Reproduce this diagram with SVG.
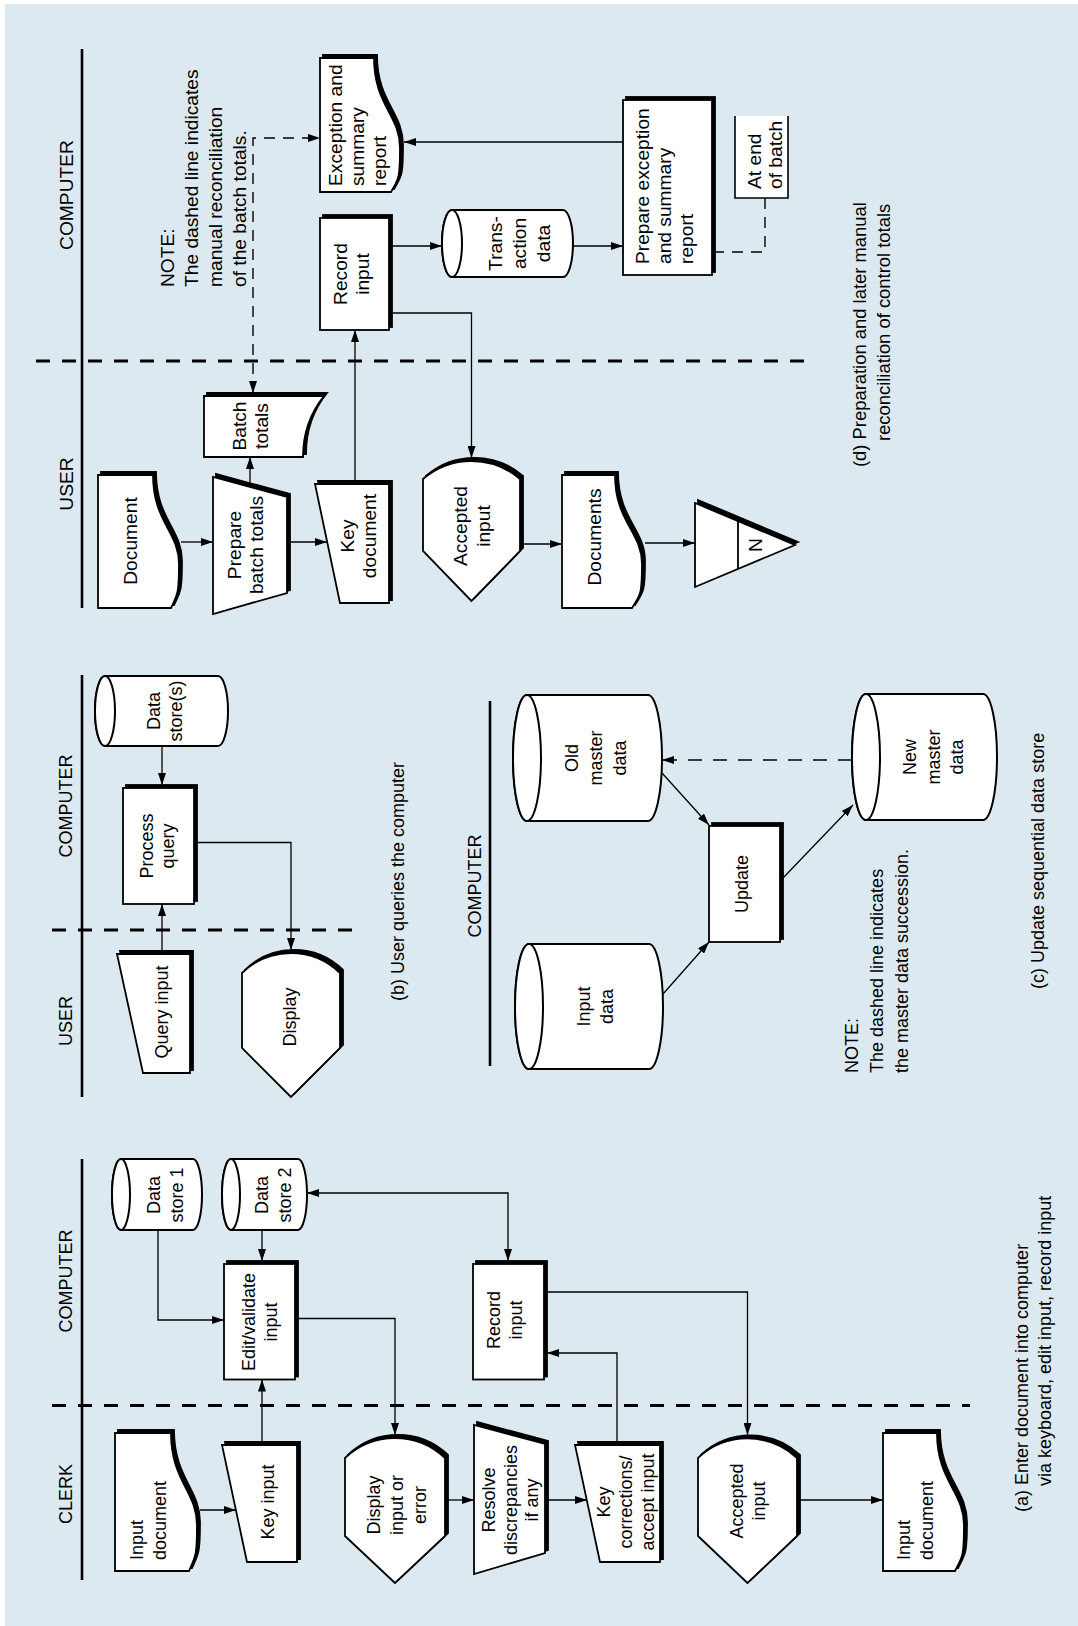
<svg xmlns="http://www.w3.org/2000/svg" width="1078" height="1626" viewBox="0 0 1078 1626">
<style>
text{font-family:"Liberation Sans",Arial,Helvetica,sans-serif;fill:#000}
.f19{font-size:19.2px}
.f18{font-size:18px}
.fc{font-size:18.4px}
.m{text-anchor:middle}
.sh{fill:#000;stroke:#000;stroke-width:1.8}
.nd{fill:#fff;stroke:#000;stroke-width:1.8;stroke-linejoin:miter}
.cy{fill:#fff;stroke:#000;stroke-width:2}
.ln{fill:none;stroke:#000;stroke-width:1.3}
.dl{fill:none;stroke:#000;stroke-width:1.4;stroke-dasharray:11 8}
.dl2{fill:none;stroke:#000;stroke-width:1.4;stroke-dasharray:14 11}
.lane{stroke:#000;stroke-width:2.6}
.div{stroke:#000;stroke-width:3;stroke-dasharray:14 12}
</style>
<defs>
<marker id="ah" viewBox="0 0 12 8" refX="12" refY="4" markerWidth="12" markerHeight="8" markerUnits="userSpaceOnUse" orient="auto-start-reverse"><path d="M0,0 L12,4 L0,8 Z" fill="#000"/></marker>
</defs>
<rect x="5" y="4" width="1073" height="1622" fill="#dce9f1"/>
<g transform="translate(0 1626) rotate(-90)">
<g id="lanes">
<line class="lane" x1="1018" y1="82" x2="1577" y2="82"/>
<line class="div" x1="1265" y1="36" x2="1265" y2="816"/>
<text class="f19 m" x="1431" y="73">COMPUTER</text>
<text class="f19 m" x="1142" y="73">USER</text>
<line class="lane" x1="529" y1="82" x2="951" y2="82"/>
<line class="div" x1="696" y1="52" x2="696" y2="357"/>
<text class="f18 m" x="820" y="72">COMPUTER</text>
<text class="f18 m" x="605" y="72">USER</text>
<line class="lane" x1="560" y1="490" x2="925" y2="490"/>
<text class="f18 m" x="740" y="481">COMPUTER</text>
<line class="lane" x1="46" y1="82" x2="467" y2="82"/>
<line class="div" x1="220.5" y1="52" x2="220.5" y2="970"/>
<text class="f18 m" x="345" y="72">COMPUTER</text>
<text class="f18 m" x="132" y="72">CLERK</text>
</g>

<!-- (d) -->
<g id="d-exception-report">
<path class="sh" transform="translate(3 3)" d="M1434,320 H1568 V374 C1521,374 1511,400 1478,400 S1447,398 1434,391 Z"/>
<path class="nd" d="M1434,320 H1568 V374 C1521,374 1511,400 1478,400 S1447,398 1434,391 Z"/>
<text class="f19"><tspan x="1440" y="342">Exception and</tspan><tspan x="1440" y="364">summary</tspan><tspan x="1440" y="386">report</tspan></text>
</g>
<g id="d-record-input">
<rect class="sh" x="1299" y="323" width="112" height="69"/>
<rect class="nd" x="1296" y="320" width="112" height="69"/>
<text class="f19 m"><tspan x="1352" y="347">Record</tspan><tspan x="1352" y="369">input</tspan></text>
</g>
<g id="d-transaction-data">
<path class="cy" d="M1349,452 V563 A33.5,10 0 0 0 1416,563 V452 A33.5,10 0 0 0 1349,452 Z"/>
<ellipse class="cy" cx="1382.5" cy="452" rx="33.5" ry="10"/>
<text class="f19 m"><tspan x="1382.5" y="502">Trans-</tspan><tspan x="1382.5" y="526">action</tspan><tspan x="1382.5" y="550">data</tspan></text>
</g>
<g id="d-prepare-exception">
<rect class="sh" x="1354" y="626" width="175" height="89"/>
<rect class="nd" x="1351" y="623" width="175" height="89"/>
<text class="f19"><tspan x="1362" y="649">Prepare exception</tspan><tspan x="1362" y="671">and summary</tspan><tspan x="1362" y="693">report</tspan></text>
</g>
<g id="d-annotation">
<rect x="1428" y="735" width="82" height="53" fill="#fff"/>
<path d="M1510,735 H1428 V788 H1510" fill="none" stroke="#000" stroke-width="1.6"/>
<text class="f19"><tspan x="1437" y="760.5">At end</tspan><tspan x="1437" y="782">of batch</tspan></text>
</g>
<g id="d-batch-totals">
<path class="sh" transform="translate(3 3)" d="M1169,204 H1230 V324 C1214,311 1195,303 1169,303 Z"/>
<path class="nd" d="M1169,204 H1230 V324 C1214,311 1195,303 1169,303 Z"/>
<text class="f19 m"><tspan x="1200" y="246">Batch</tspan><tspan x="1200" y="268">totals</tspan></text>
</g>
<g id="d-document">
<path class="sh" transform="translate(3 3)" d="M1018,98 H1151 V153 C1104,153 1094,179 1062,179 S1031,177 1018,171 Z"/>
<path class="nd" d="M1018,98 H1151 V153 C1104,153 1094,179 1062,179 S1031,177 1018,171 Z"/>
<text class="f19 m" x="1085" y="137">Document</text>
</g>
<g id="d-prepare-batch-totals">
<polygon class="sh" transform="translate(3 3)" points="1012,213 1149,213 1129,287 1033,287"/>
<polygon class="nd" points="1012,213 1149,213 1129,287 1033,287"/>
<text class="f19 m"><tspan x="1081" y="241">Prepare</tspan><tspan x="1081" y="263">batch totals</tspan></text>
</g>
<g id="d-key-document">
<polygon class="sh" transform="translate(3 3)" points="1023,340 1142,315 1142,389 1023,389"/>
<polygon class="nd" points="1023,340 1142,315 1142,389 1023,389"/>
<text class="f19 m"><tspan x="1090" y="354">Key</tspan><tspan x="1090" y="376">document</tspan></text>
</g>
<g id="d-accepted-input">
<path class="sh" transform="translate(3 3)" d="M1025,471.5 L1075,423 H1147 A74.3,74.3 0 0 1 1147,520 H1075 Z"/>
<path class="nd" d="M1025,471.5 L1075,423 H1147 A74.3,74.3 0 0 1 1147,520 H1075 Z"/>
<text class="f19 m"><tspan x="1100" y="467">Accepted</tspan><tspan x="1100" y="490">input</tspan></text>
</g>
<g id="d-documents">
<path class="sh" transform="translate(3 3)" d="M1018,562 H1151 V615 C1104,615 1094,642 1062,642 S1031,640 1018,632 Z"/>
<path class="nd" d="M1018,562 H1151 V615 C1104,615 1094,642 1062,642 S1031,640 1018,632 Z"/>
<text class="f19 m" x="1089" y="601">Documents</text>
</g>
<g id="d-offline-file">
<polygon class="sh" transform="translate(3 3)" points="1039,695 1123,695 1081,795"/>
<polygon class="nd" points="1039,695 1123,695 1081,795"/>
<line x1="1057" y1="738" x2="1105" y2="738" stroke="#000" stroke-width="1.8"/>
<text class="f19 m" x="1081" y="762">N</text>
</g>

<!-- (b) -->
<g id="b-data-stores">
<path class="cy" d="M880,105 V218 A35,10 0 0 0 950,218 V105 A35,10 0 0 0 880,105 Z"/>
<ellipse class="cy" cx="915" cy="105" rx="35" ry="10"/>
<text class="f18 m"><tspan x="915" y="160">Data</tspan><tspan x="915" y="182">store(s)</tspan></text>
</g>
<g id="b-process-query">
<rect class="sh" x="725" y="126" width="116" height="71"/>
<rect class="nd" x="722" y="123" width="116" height="71"/>
<text class="f18 m"><tspan x="780" y="153">Process</tspan><tspan x="780" y="174">query</tspan></text>
</g>
<g id="b-query-input">
<polygon class="sh" transform="translate(3 3)" points="553,143 672,117 672,190 553,190"/>
<polygon class="nd" points="553,143 672,117 672,190 553,190"/>
<text class="f18 m" x="614" y="168">Query input</text>
</g>
<g id="b-display">
<path class="sh" transform="translate(3 3)" d="M529,291 L578,242 H653 A70,70 0 0 1 653,340 H578 Z"/>
<path class="nd" d="M529,291 L578,242 H653 A70,70 0 0 1 653,340 H578 Z"/>
<text class="f18 m" x="609" y="296">Display</text>
</g>

<!-- (c) -->
<g id="c-old-master">
<path class="cy" d="M805,527 V648 A63,14 0 0 0 931,648 V527 A63,14 0 0 0 805,527 Z"/>
<ellipse class="cy" cx="868" cy="527" rx="63" ry="14"/>
<text class="f18 m"><tspan x="868" y="578">Old</tspan><tspan x="868" y="602">master</tspan><tspan x="868" y="626">data</tspan></text>
</g>
<g id="c-input-data">
<path class="cy" d="M557,529 V649 A62.5,14 0 0 0 682,649 V529 A62.5,14 0 0 0 557,529 Z"/>
<ellipse class="cy" cx="619.5" cy="529" rx="62.5" ry="14"/>
<text class="f18 m"><tspan x="619.5" y="590">Input</tspan><tspan x="619.5" y="613">data</tspan></text>
</g>
<g id="c-update">
<rect class="sh" x="687" y="712" width="116" height="71"/>
<rect class="nd" x="684" y="709" width="116" height="71"/>
<text class="f18 m" x="742" y="748">Update</text>
</g>
<g id="c-new-master">
<path class="cy" d="M806,866 V983 A63,14 0 0 0 932,983 V866 A63,14 0 0 0 806,866 Z"/>
<ellipse class="cy" cx="869" cy="866" rx="63" ry="14"/>
<text class="f18 m"><tspan x="869" y="916">New</tspan><tspan x="869" y="940">master</tspan><tspan x="869" y="963">data</tspan></text>
</g>

<!-- (a) -->
<g id="a-data-store-1">
<path class="cy" d="M396,121 V193 A35.5,9 0 0 0 467,193 V121 A35.5,9 0 0 0 396,121 Z"/>
<ellipse class="cy" cx="431.5" cy="121" rx="35.5" ry="9"/>
<text class="f18 m"><tspan x="431" y="160">Data</tspan><tspan x="431" y="183">store 1</tspan></text>
</g>
<g id="a-data-store-2">
<path class="cy" d="M396,231 V298 A35.5,9 0 0 0 467,298 V231 A35.5,9 0 0 0 396,231 Z"/>
<ellipse class="cy" cx="431.5" cy="231" rx="35.5" ry="9"/>
<text class="f18 m"><tspan x="431" y="268">Data</tspan><tspan x="431" y="291">store 2</tspan></text>
</g>
<g id="a-edit-validate">
<rect class="sh" x="249.5" y="227" width="115.5" height="71"/>
<rect class="nd" x="246.5" y="224" width="115.5" height="71"/>
<text class="f18 m"><tspan x="304" y="255">Edit/validate</tspan><tspan x="304" y="277">input</tspan></text>
</g>
<g id="a-record-input">
<rect class="sh" x="249.5" y="476" width="115.5" height="71"/>
<rect class="nd" x="246.5" y="473" width="115.5" height="71"/>
<text class="f18 m"><tspan x="306" y="500">Record</tspan><tspan x="306" y="522">input</tspan></text>
</g>
<g id="a-input-document">
<path class="sh" transform="translate(3 3)" d="M55,115 H193 V171 C145,171 134,197 101,197 S69,195 55,189 Z"/>
<path class="nd" d="M55,115 H193 V171 C145,171 134,197 101,197 S69,195 55,189 Z"/>
<text class="f18"><tspan x="66" y="143">Input</tspan><tspan x="66" y="166">document</tspan></text>
</g>
<g id="a-key-input">
<polygon class="sh" transform="translate(3 3)" points="64,247 181,222 181,297 64,297"/>
<polygon class="nd" points="64,247 181,222 181,297 64,297"/>
<text class="f18 m" x="124" y="274">Key input</text>
</g>
<g id="a-display">
<path class="sh" transform="translate(3 3)" d="M43,395 L90,345 H168 A72.5,72.5 0 0 1 168,445 H90 Z"/>
<path class="nd" d="M43,395 L90,345 H168 A72.5,72.5 0 0 1 168,445 H90 Z"/>
<text class="f18 m"><tspan x="121" y="380">Display</tspan><tspan x="121" y="403">input or</tspan><tspan x="121" y="426">error</tspan></text>
</g>
<g id="a-resolve">
<polygon class="sh" transform="translate(3 3)" points="52,474 201,474 182,545 73,545"/>
<polygon class="nd" points="52,474 201,474 182,545 73,545"/>
<text class="f18 m"><tspan x="126" y="495">Resolve</tspan><tspan x="126" y="516.5">discrepancies</tspan><tspan x="126" y="537.5">if any</tspan></text>
</g>
<g id="a-key-corrections">
<polygon class="sh" transform="translate(3 3)" points="64,600 181,575 181,660 64,660"/>
<polygon class="nd" points="64,600 181,575 181,660 64,660"/>
<text class="f18 m"><tspan x="124" y="610">Key</tspan><tspan x="124" y="632">corrections/</tspan><tspan x="124" y="654">accept input</tspan></text>
</g>
<g id="a-accepted-input">
<path class="sh" transform="translate(3 3)" d="M43,747.5 L90,698 H168 A72.5,72.5 0 0 1 168,797 H90 Z"/>
<path class="nd" d="M43,747.5 L90,698 H168 A72.5,72.5 0 0 1 168,797 H90 Z"/>
<text class="f18 m"><tspan x="125" y="743">Accepted</tspan><tspan x="125" y="765">input</tspan></text>
</g>
<g id="a-input-document-2">
<path class="sh" transform="translate(3 3)" d="M55,883 H193 V937 C145,937 134,964 101,964 S69,962 55,955 Z"/>
<path class="nd" d="M55,883 H193 V937 C145,937 134,964 101,964 S69,962 55,955 Z"/>
<text class="f18"><tspan x="66" y="910">Input</tspan><tspan x="66" y="933">document</tspan></text>
</g>

<g id="connectors">
<path class="ln" d="M1084,181 V213" marker-end="url(#ah)"/>
<path class="ln" d="M1084,290 V327" marker-end="url(#ah)"/>
<path class="ln" d="M1142,250 H1169" marker-end="url(#ah)"/>
<path class="ln" d="M1145,355 H1296" marker-end="url(#ah)"/>
<path class="ln" d="M1380,392 V442" marker-end="url(#ah)"/>
<path class="ln" d="M1380,573 V623" marker-end="url(#ah)"/>
<path class="ln" d="M1484,623 V404" marker-end="url(#ah)"/>
<path class="ln" d="M1313,392 V471.5 H1168" marker-end="url(#ah)"/>
<path class="ln" d="M1082,523 V562" marker-end="url(#ah)"/>
<path class="ln" d="M1083,645 V695" marker-end="url(#ah)"/>
<path class="dl" d="M1233,253 H1488 V320" marker-start="url(#ah)" marker-end="url(#ah)"/>
<path class="dl" d="M1428,765 H1374 V715"/>
<path class="ln" d="M880,162 H841" marker-end="url(#ah)"/>
<path class="ln" d="M675,162 H722" marker-end="url(#ah)"/>
<path class="ln" d="M783.5,197 V291 H676" marker-end="url(#ah)"/>
<path class="ln" d="M632,663 L684,709" marker-end="url(#ah)"/>
<path class="ln" d="M853,662 L801,709" marker-end="url(#ah)"/>
<path class="ln" d="M748,783 L821,853" marker-end="url(#ah)"/>
<path class="dl2" d="M866,852 V662" marker-end="url(#ah)"/>
<path class="ln" d="M116,200 V236" marker-end="url(#ah)"/>
<path class="ln" d="M184,262 H246.5" marker-end="url(#ah)"/>
<path class="ln" d="M396,158 H306 V224" marker-end="url(#ah)"/>
<path class="ln" d="M396,262 H365" marker-end="url(#ah)"/>
<path class="ln" d="M433,307 V508 H365" marker-start="url(#ah)" marker-end="url(#ah)"/>
<path class="ln" d="M307.5,298 V395 H191" marker-end="url(#ah)"/>
<path class="ln" d="M126,448 V474" marker-end="url(#ah)"/>
<path class="ln" d="M126,548 V587" marker-end="url(#ah)"/>
<path class="ln" d="M184,617 H273 V547" marker-end="url(#ah)"/>
<path class="ln" d="M334,547 V747.5 H191" marker-end="url(#ah)"/>
<path class="ln" d="M126,800 V883" marker-end="url(#ah)"/>
</g>

<g id="notes">
<text class="f19"><tspan x="1339" y="173.5">NOTE:</tspan><tspan x="1339" y="198">The dashed line indicates</tspan><tspan x="1339" y="222">manual reconciliation</tspan><tspan x="1339" y="246">of the batch totals.</tspan></text>
<text class="fc"><tspan x="1159" y="866">(d) Preparation and later manual</tspan><tspan x="1185" y="890">reconciliation of control totals</tspan></text>
<text class="f18" x="625" y="404">(b) User queries the computer</text>
<text class="f18"><tspan x="553" y="858">NOTE:</tspan><tspan x="553" y="883">The dashed line indicates</tspan><tspan x="553" y="908">the master data succession.</tspan></text>
<text class="f18" x="637" y="1044">(c) Update sequential data store</text>
<text class="f18"><tspan x="114" y="1028">(a) Enter document into computer</tspan><tspan x="140" y="1051">via keyboard, edit input, record input</tspan></text>
</g>
</g>
</svg>
